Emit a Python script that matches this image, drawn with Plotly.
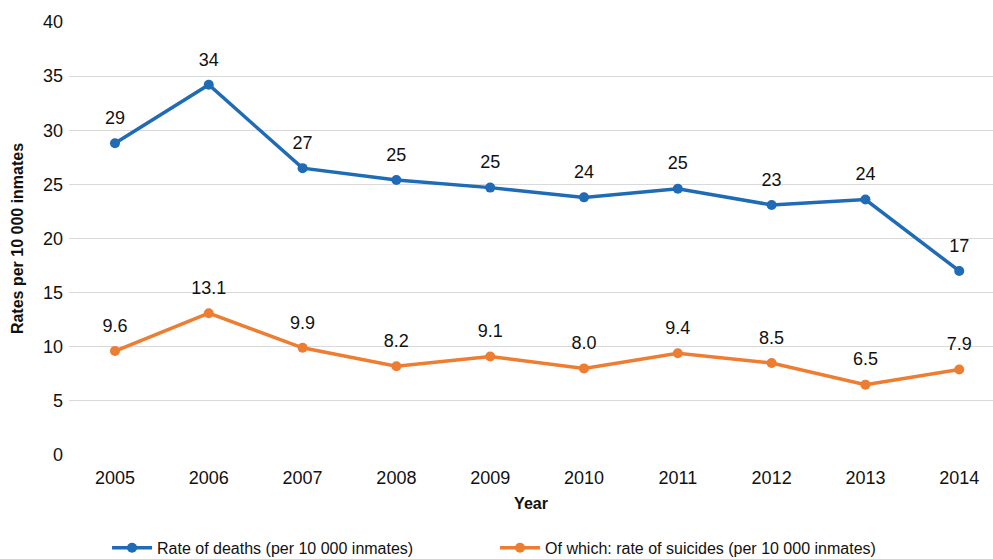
import plotly.graph_objects as go

years = [2005, 2006, 2007, 2008, 2009, 2010, 2011, 2012, 2013, 2014]
deaths = [28.8, 34.2, 26.5, 25.4, 24.7, 23.8, 24.6, 23.1, 23.6, 17.0]
suicides = [9.6, 13.1, 9.9, 8.2, 9.1, 8.0, 9.4, 8.5, 6.5, 7.9]
deaths_labels = ["29", "34", "27", "25", "25", "24", "25", "23", "24", "17"]
suicides_labels = ["9.6", "13.1", "9.9", "8.2", "9.1", "8.0", "9.4", "8.5", "6.5", "7.9"]
y_ticks = [0, 5, 10, 15, 20, 25, 30, 35, 40]

BLUE = "#1F6BB5"
ORANGE = "#ED7D31"
NARROW = "Liberation Sans Narrow, Liberation Sans, Arial"
ARIAL = "Liberation Sans, Arial"

fig = go.Figure()
for vals, labels, color, name in [
    (deaths, deaths_labels, BLUE, "Rate of deaths (per 10 000 inmates)"),
    (suicides, suicides_labels, ORANGE, "Of which: rate of suicides (per 10 000 inmates)"),
]:
    fig.add_trace(go.Scatter(
        x=years, y=vals, mode="lines+markers", name=name,
        line=dict(color=color, width=3.5), marker=dict(size=10, color=color),
    ))
    fig.add_trace(go.Scatter(
        x=years, y=vals, mode="markers+text", showlegend=False, hoverinfo="skip",
        marker=dict(size=22, color=color, opacity=0),
        text=labels, textposition="top center",
        textfont=dict(family=ARIAL, size=18, color="#111111"),
    ))

fig.update_layout(
    width=993, height=559,
    margin=dict(l=69, r=0, t=22, b=104),
    paper_bgcolor="white", plot_bgcolor="white",
    font=dict(family=ARIAL, size=18, color="#111111"),
    showlegend=True,
    legend=dict(orientation="h", xref="container", x=0.1078, xanchor="left",
                yref="container", y=0.02, yanchor="middle",
                font=dict(family=NARROW, size=16, color="#111111"),
                itemwidth=40, traceorder="normal",
                entrywidth=333, entrywidthmode="pixels"),
    xaxis=dict(range=[2004.51, 2014.36], tickmode="array", tickvals=years,
               ticktext=[str(y) for y in years], showgrid=False, zeroline=False,
               showline=False, ticks="", automargin=False, ticklabelstandoff=10,
               title=dict(text="<b>Year</b>", font=dict(family=NARROW, size=16), standoff=10),
               tickfont=dict(family=ARIAL, size=18)),
    yaxis=dict(range=[0, 40], tickmode="array", tickvals=y_ticks,
               showgrid=True, gridcolor="#D9D9D9", gridwidth=1.3, zeroline=False,
               showline=False, ticks="", automargin=False, ticklabelstandoff=5,
               title=dict(text="<b>Rates per 10 000 inmates</b>", font=dict(family=NARROW, size=16), standoff=15),
               tickfont=dict(family=ARIAL, size=18)),
)

fig.write_html("out.html", config={"displayModeBar": False},
               post_script="document.body.style.margin='0';document.body.style.padding='0';")
